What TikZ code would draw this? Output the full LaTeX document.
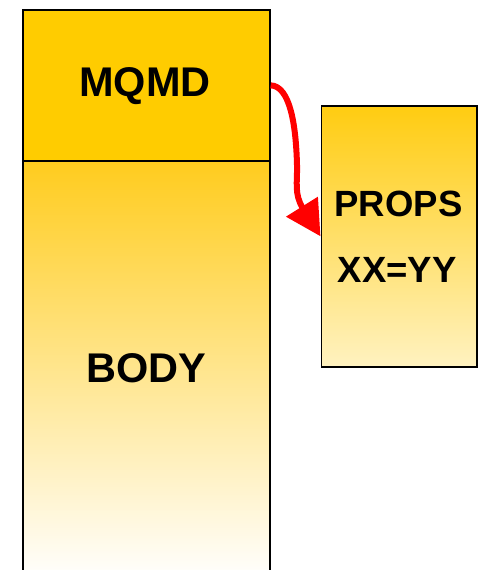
\documentclass[tikz,border=0pt]{standalone}
\usepackage{fontspec}
\setmainfont{Liberation Sans}
\usetikzlibrary{arrows.meta}
\definecolor{gold}{RGB}{255,204,0}
\definecolor{goldtop}{RGB}{255,204,30}
\definecolor{propstop}{RGB}{255,204,17}
\definecolor{propsbot}{RGB}{255,242,192}
\begin{document}
\begin{tikzpicture}[x=1pt,y=-1pt,
  box/.style={draw=black,line width=1.7pt,rectangle,inner sep=0pt,anchor=north west},
  big/.style={font=\fontsize{41.5}{41.5}\selectfont\bfseries},
  mid/.style={font=\fontsize{36.5}{36.5}\selectfont\bfseries},
  link/.style={draw=red,line width=6pt,-{Triangle[length=35pt,width=36pt]}}]
\clip (0,0) rectangle (481,570);
\fill[white] (0,0) rectangle (481,570);
% body
\node[box,minimum width=247pt,minimum height=420pt,top color=goldtop,bottom color=white] (body) at (22,160) {};
\node[big] (bodytxt) at (146,368) {BODY};
% MQMD
\node[box,minimum width=247pt,minimum height=151pt,fill=gold] (mqmd) at (22,9) {};
\node[big] (mqmdtxt) at (145,86) {MQMD};
% props
\node[box,minimum width=155.5pt,minimum height=261pt,top color=propstop,bottom color=propsbot] (props) at (320.5,105) {};
\node[mid] (propstxt) at (398.5,204) {PROPS};
\node[mid] (xxtxt) at (397,270) {XX=YY};
% arrow
\draw[link] (mqmd.east) .. controls (290,86) and (296,125) .. (297,165)
  .. controls (297.5,182) and (294,194) .. (props.west);
\end{tikzpicture}
\end{document}
